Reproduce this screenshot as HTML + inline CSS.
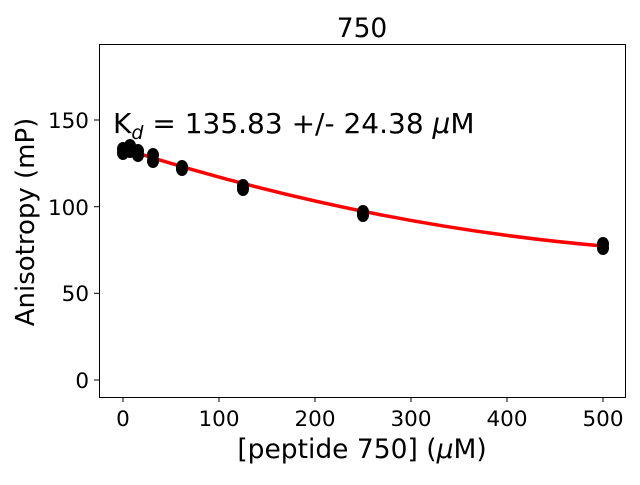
<!DOCTYPE html>
<html><head><style>body{margin:0;background:#fff}</style></head><body>
<svg width="640" height="480" xmlns="http://www.w3.org/2000/svg" font-family="DejaVu Sans, Liberation Sans, sans-serif">
<rect x="99.5" y="44.5" width="526" height="353" fill="none" stroke="#000" stroke-width="1"/>
<g stroke="#000">
<line x1="123" y1="397" x2="123" y2="402"/><line x1="219" y1="397" x2="219" y2="402"/><line x1="315" y1="397" x2="315" y2="402"/><line x1="411" y1="397" x2="411" y2="402"/><line x1="507" y1="397" x2="507" y2="402"/><line x1="603" y1="397" x2="603" y2="402"/>
<line x1="94" y1="380" x2="99" y2="380"/><line x1="94" y1="293.3" x2="99" y2="293.3"/><line x1="94" y1="206.7" x2="99" y2="206.7"/><line x1="94" y1="120" x2="99" y2="120"/>
</g>
<g font-size="21.5" text-anchor="middle">
<text x="123" y="426">0</text><text x="219" y="426">100</text><text x="315" y="426">200</text><text x="411" y="426">300</text><text x="507" y="426">400</text><text x="603" y="426">500</text>
</g>
<g font-size="21.5" text-anchor="end">
<text x="89" y="388">0</text><text x="89" y="301">50</text><text x="89" y="215">100</text><text x="89" y="128">150</text>
</g>
<text x="362" y="37" font-size="26.5" text-anchor="middle">750</text>
<text x="362" y="458" font-size="26.5" text-anchor="middle">[peptide 750] (<tspan font-style="italic">μ</tspan>M)</text>
<text transform="translate(34,222) rotate(-90)" font-size="26" text-anchor="middle">Anisotropy (mP)</text>
<text x="113" y="133" font-size="28">K<tspan font-size="19" dy="6" font-style="italic">d</tspan><tspan dy="-6"> = 135.83 +/- 24.38 </tspan><tspan font-style="italic">μ</tspan>M</text>
<path d="M123,148.5 C283,200 443,232 603,246" fill="none" stroke="#f00" stroke-width="3.5"/>
<g fill="#000">
<ellipse cx="123" cy="149" rx="6" ry="7"/><ellipse cx="123" cy="153" rx="6" ry="7"/>
<ellipse cx="127" cy="150" rx="6" ry="7"/>
<ellipse cx="130" cy="146" rx="6" ry="7"/><ellipse cx="130" cy="151" rx="6" ry="7"/>
<ellipse cx="138" cy="151" rx="6" ry="7"/><ellipse cx="138" cy="155" rx="6" ry="7"/>
<ellipse cx="153" cy="155" rx="6" ry="7"/><ellipse cx="153" cy="161" rx="6" ry="7"/>
<ellipse cx="182" cy="167" rx="6" ry="7"/><ellipse cx="182" cy="169" rx="6" ry="7"/>
<ellipse cx="243" cy="186" rx="6" ry="7"/><ellipse cx="243" cy="189" rx="6" ry="7"/>
<ellipse cx="363" cy="212" rx="6" ry="7"/><ellipse cx="363" cy="215" rx="6" ry="7"/>
<ellipse cx="603" cy="244" rx="6" ry="7"/><ellipse cx="603" cy="248" rx="6" ry="7"/>
</g>
</svg>
</body></html>
